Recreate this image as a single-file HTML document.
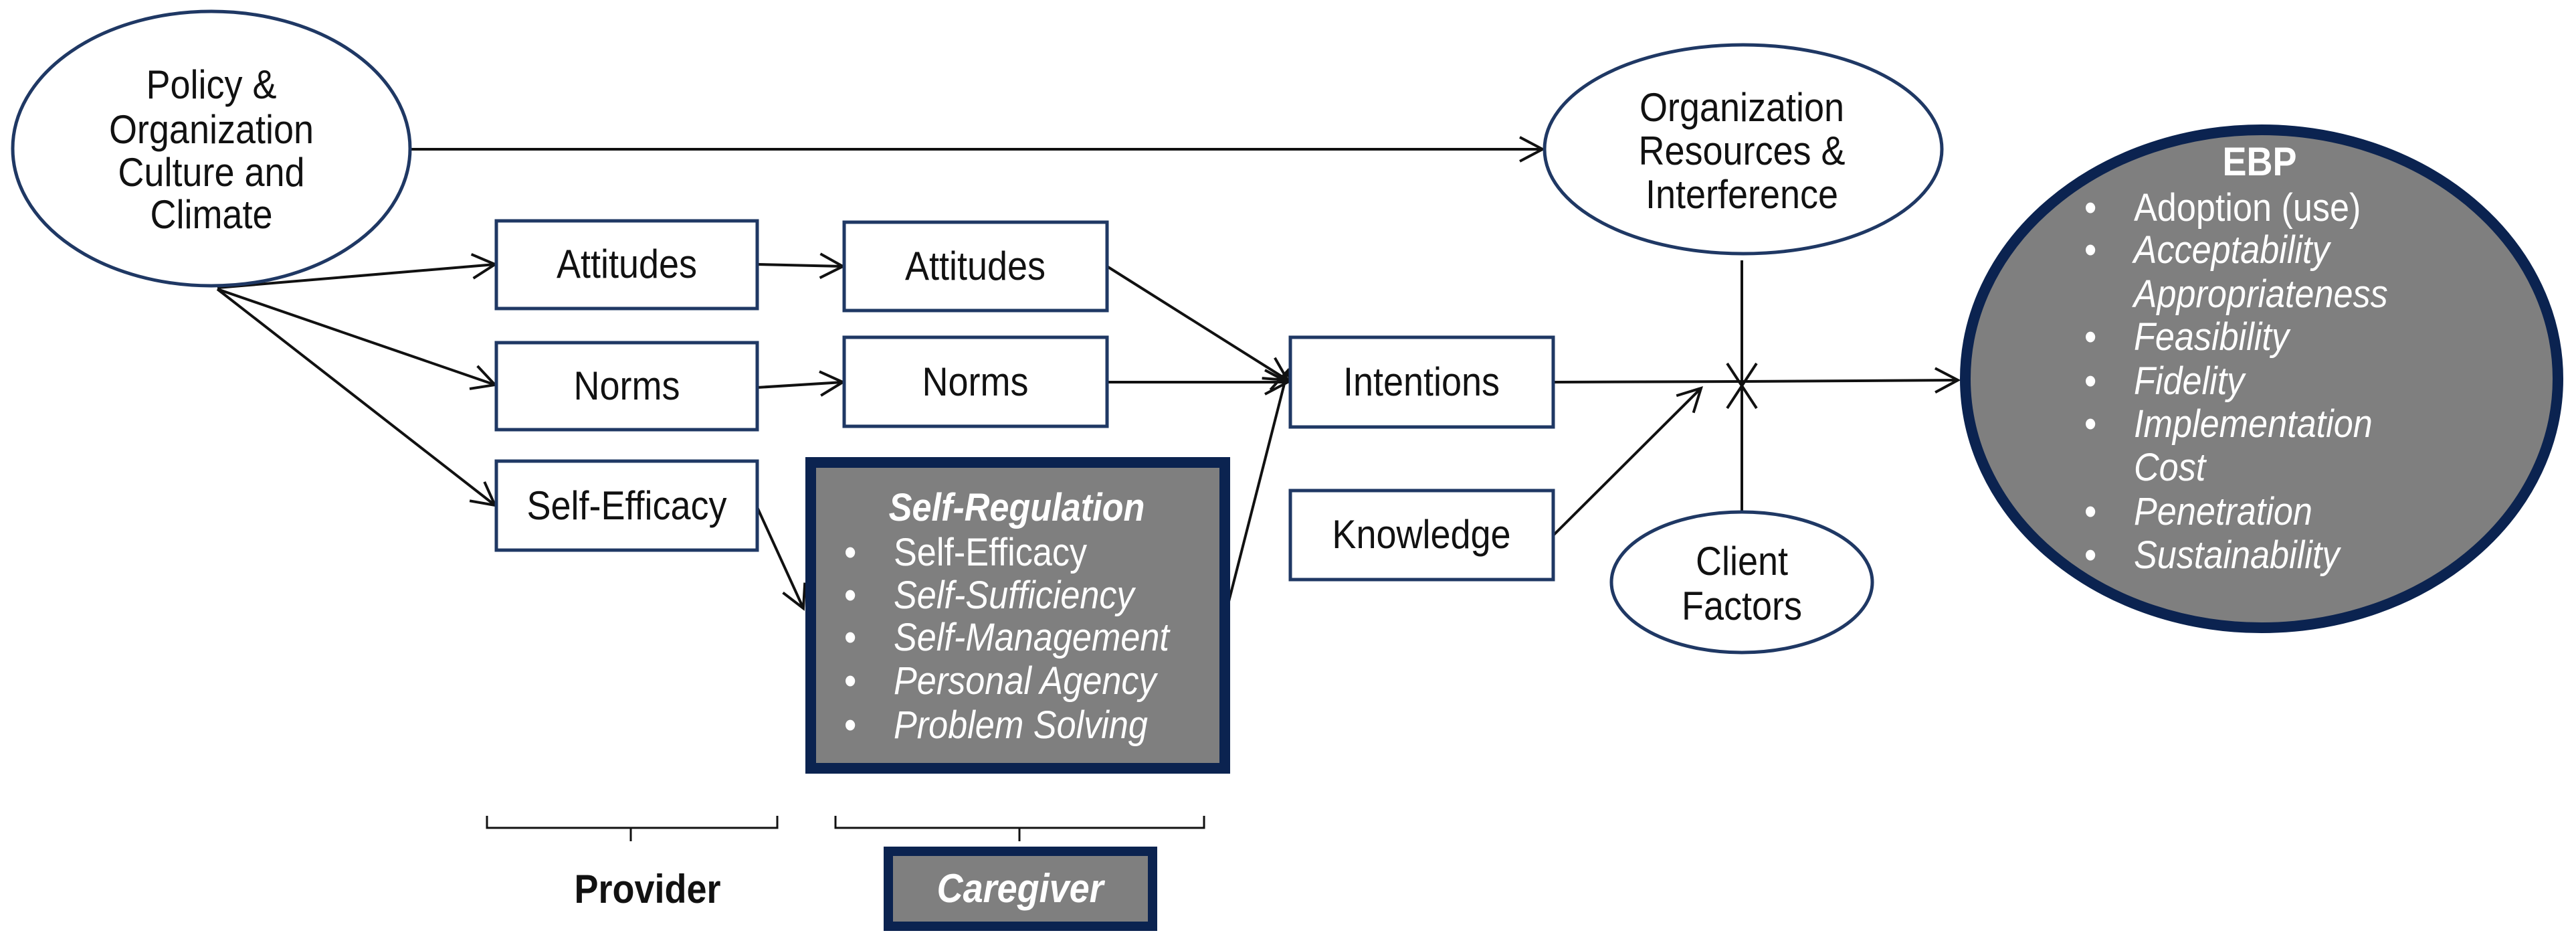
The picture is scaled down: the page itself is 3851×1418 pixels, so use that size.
<!DOCTYPE html>
<html><head><meta charset="utf-8"><style>
html,body{margin:0;padding:0;background:#fff;overflow:hidden;}
svg{display:block;}
text{font-family:"Liberation Sans",Arial,sans-serif;transform-box:fill-box;transform:scaleX(0.9);}
.m text{transform-origin:center;}
.l text{transform-origin:left center;}
</style></head><body>
<svg width="3851" height="1418" viewBox="0 0 3851 1418" xmlns="http://www.w3.org/2000/svg">
<defs>
<marker id="a" markerWidth="44" markerHeight="44" refX="38" refY="22" orient="auto" markerUnits="userSpaceOnUse">
<polyline points="4,4 38,22 4,40" fill="none" stroke="#111" stroke-width="4"/>
</marker>
</defs>
<g fill="none" stroke="#111" stroke-width="4">
<line x1="614" y1="223" x2="2306" y2="223" marker-end="url(#a)"/>
<line x1="325" y1="430" x2="740" y2="395" marker-end="url(#a)"/>
<line x1="325" y1="432" x2="740" y2="575" marker-end="url(#a)"/>
<line x1="325" y1="432" x2="740" y2="755" marker-end="url(#a)"/>
<line x1="1132" y1="395" x2="1260" y2="398" marker-end="url(#a)"/>
<line x1="1132" y1="579" x2="1260" y2="571" marker-end="url(#a)"/>
<line x1="1655" y1="398" x2="1925" y2="568" marker-end="url(#a)"/>
<line x1="1655" y1="571" x2="1925" y2="571" marker-end="url(#a)"/>
<line x1="1832" y1="918" x2="1925" y2="554" marker-end="url(#a)"/>
<line x1="1132" y1="758" x2="1201" y2="909" marker-end="url(#a)"/>
<line x1="2322" y1="571" x2="2604" y2="570" />
<line x1="2604" y1="570" x2="2927" y2="568" marker-end="url(#a)"/>
<line x1="2322" y1="800" x2="2543" y2="580" marker-end="url(#a)"/>
<line x1="2604" y1="389" x2="2604" y2="764"/>
<line x1="2582" y1="543" x2="2626" y2="610"/>
<line x1="2626" y1="543" x2="2582" y2="610"/>
<polyline points="728,1219 728,1237 1162,1237 1162,1219" stroke-width="3"/>
<line x1="943" y1="1237" x2="943" y2="1257" stroke-width="3"/>
<polyline points="1249,1219 1249,1237 1800,1237 1800,1219" stroke-width="3"/>
<line x1="1524" y1="1237" x2="1524" y2="1257" stroke-width="3"/>
</g>
<g fill="#fff" stroke="#1f3864" stroke-width="5">
<ellipse cx="316" cy="222" rx="297" ry="205"/>
<ellipse cx="2606" cy="223" rx="297" ry="156"/>
<ellipse cx="2604" cy="870" rx="195" ry="105"/>
<rect x="742" y="330" width="390" height="131"/>
<rect x="1262" y="332" width="393" height="132"/>
<rect x="742" y="512" width="390" height="130"/>
<rect x="1262" y="504" width="393" height="133"/>
<rect x="742" y="689" width="390" height="133"/>
<rect x="1929" y="504" width="393" height="134"/>
<rect x="1929" y="733" width="393" height="133"/>
</g>
<rect x="1212" y="691" width="619" height="457" fill="#7f7f7f" stroke="#0b2350" stroke-width="16"/>
<rect x="1328" y="1272" width="395" height="112" fill="#7f7f7f" stroke="#0b2350" stroke-width="14"/>
<ellipse cx="3381" cy="566" rx="443" ry="372" fill="#7f7f7f" stroke="#0b2350" stroke-width="16"/>
<g class="m" font-size="60" fill="#111" text-anchor="middle" dominant-baseline="central">
<text x="316" y="127">Policy &amp;</text>
<text x="316" y="194">Organization</text>
<text x="316" y="258">Culture and</text>
<text x="316" y="321">Climate</text>
<text x="937" y="395">Attitudes</text>
<text x="1458" y="398">Attitudes</text>
<text x="937" y="577">Norms</text>
<text x="1458" y="571">Norms</text>
<text x="937" y="756">Self-Efficacy</text>
<text x="2125" y="571">Intentions</text>
<text x="2125" y="799">Knowledge</text>
<text x="2604" y="161">Organization</text>
<text x="2604" y="226">Resources &amp;</text>
<text x="2604" y="291">Interference</text>
<text x="2604" y="839">Client</text>
<text x="2604" y="906">Factors</text>
<text x="968" y="1329" font-weight="bold">Provider</text>
</g>
<g class="m" font-size="60" fill="#fff" text-anchor="middle" dominant-baseline="central" font-weight="bold">
<text x="1520" y="758" font-style="italic" font-size="58">Self-Regulation</text>
<text x="1525" y="1328" font-style="italic">Caregiver</text>
<text x="3378" y="242">EBP</text>
</g>
<g class="l" font-size="58" fill="#fff" dominant-baseline="central">
<text x="1262" y="825">•</text><text x="1336" y="825">Self-Efficacy</text>
<text x="1262" y="889">•</text><text x="1336" y="889" font-style="italic">Self-Sufficiency</text>
<text x="1262" y="952">•</text><text x="1336" y="952" font-style="italic">Self-Management</text>
<text x="1262" y="1017">•</text><text x="1336" y="1017" font-style="italic">Personal Agency</text>
<text x="1262" y="1083">•</text><text x="1336" y="1083" font-style="italic">Problem Solving</text>
<text x="3116" y="310">•</text><text x="3190" y="310">Adoption (use)</text>
<text x="3116" y="373">•</text><text x="3190" y="373" font-style="italic">Acceptability</text>
<text x="3190" y="439" font-style="italic">Appropriateness</text>
<text x="3116" y="503">•</text><text x="3190" y="503" font-style="italic">Feasibility</text>
<text x="3116" y="569">•</text><text x="3190" y="569" font-style="italic">Fidelity</text>
<text x="3116" y="633">•</text><text x="3190" y="633" font-style="italic">Implementation</text>
<text x="3190" y="698" font-style="italic">Cost</text>
<text x="3116" y="764">•</text><text x="3190" y="764" font-style="italic">Penetration</text>
<text x="3116" y="829">•</text><text x="3190" y="829" font-style="italic">Sustainability</text>
</g>
</svg>
</body></html>
